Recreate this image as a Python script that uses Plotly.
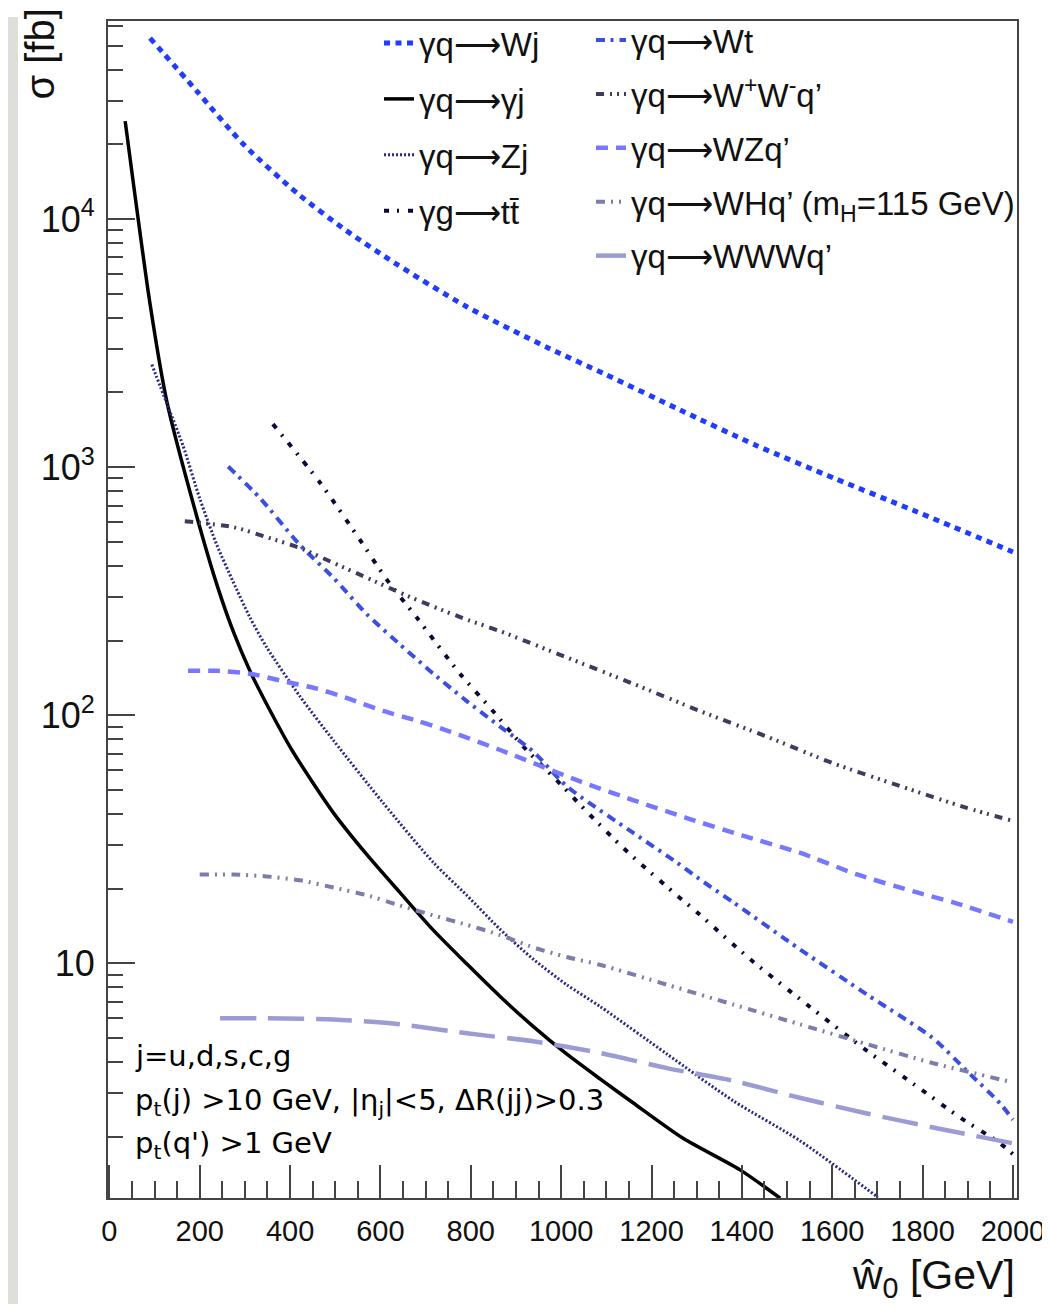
import plotly.graph_objects as go

# ---------------- data ----------------
wj_x = [90, 194, 298, 418, 524, 632, 791, 975, 1097, 1263, 1433, 1606, 1779, 2000]
wj_y = [53600, 32700, 19900, 12600, 8990, 6640, 4430, 3000, 2370, 1700, 1220, 899, 670, 455]

gj_x = [35, 90, 128, 194, 238, 274, 311, 348, 406, 496, 570, 643, 717, 791, 865, 938, 1012, 1086, 1159, 1270, 1396, 1485]
gj_y = [24800, 4550, 1810, 628, 336, 218, 151, 111, 71.4, 40.4, 27.4, 19.3, 13.6, 9.95, 7.35, 5.57, 4.31, 3.42, 2.74, 1.97, 1.47, 1.13]

zj_x = [94, 127, 163, 200, 238, 274, 311, 348, 422, 496, 606, 717, 791, 865, 938, 1012, 1086, 1234, 1381, 1528, 1701]
zj_y = [2590, 1810, 1220, 748, 485, 345, 248, 188, 119, 79.1, 44.3, 25.5, 18.8, 13.7, 10.4, 8.20, 6.70, 4.31, 2.79, 1.93, 1.14]

tt_x = [362, 466, 555, 614, 680, 776, 849, 916, 990, 1064, 1137, 1178, 1256, 1300, 1418, 1544, 1669, 1795, 1883, 1972, 2000]
tt_y = [1490, 867, 508, 352, 248, 147, 104, 74.8, 54.7, 39.6, 29.2, 25.0, 18.8, 16.1, 10.4, 6.82, 4.55, 3.12, 2.39, 1.88, 1.70]

wt_x = [263, 334, 422, 496, 570, 643, 717, 791, 865, 938, 1012, 1159, 1256, 1307, 1381, 1528, 1677, 1823, 1898, 1972, 2000]
wt_y = [1005, 748, 485, 358, 255, 193, 147, 114, 89.9, 71.4, 51.8, 33.6, 25.5, 21.8, 17.6, 11.4, 7.48, 4.99, 3.68, 2.72, 2.34]

ww_x = [167, 274, 348, 422, 496, 570, 643, 717, 791, 865, 1012, 1159, 1307, 1455, 1602, 1750, 1898, 2000]
ww_y = [605, 573, 522, 472, 411, 358, 312, 274, 243, 218, 171, 134, 104, 82.0, 64.0, 51.8, 42.3, 37.5]

wz_x = [174, 238, 311, 385, 459, 533, 606, 680, 754, 865, 1035, 1159, 1278, 1402, 1528, 1655, 1788, 1868, 2000]
wz_y = [151, 151, 147, 137, 128, 116, 104, 95.1, 85.9, 72.4, 54.7, 45.5, 38.5, 32.7, 27.9, 22.8, 19.3, 17.6, 14.7]

wh_x = [200, 274, 348, 422, 496, 570, 643, 717, 791, 865, 938, 1012, 1086, 1234, 1381, 1528, 1677, 1823, 2000]
wh_y = [22.8, 22.8, 22.4, 21.6, 20.2, 18.8, 17.1, 15.6, 14.3, 13.0, 11.6, 10.6, 9.86, 8.20, 6.82, 5.68, 4.72, 3.96, 3.31]

www_x = [245, 348, 496, 643, 791, 938, 1086, 1234, 1381, 1528, 1677, 1823, 2000]
www_y = [6.00, 6.00, 5.94, 5.68, 5.22, 4.85, 4.35, 3.78, 3.36, 2.87, 2.48, 2.18, 1.88]

y_tickvals = [10, 100, 1000, 10000]
y_ticktext = ["10", "10<sup>2</sup>", "10<sup>3</sup>", "10<sup>4</sup>"]
y_minor = [m * 10 ** e for e in range(0, 5) for m in range(2, 10)]

ARROW = "⟶"
names = {
    "wj": f"γq{ARROW}Wj", "gj": f"γq{ARROW}γj", "zj": f"γq{ARROW}Zj", "tt": f"γg{ARROW}tt\u0304",
    "wt": f"γq{ARROW}Wt", "ww": f"γq{ARROW}W<sup>+</sup>W<sup>-</sup>q’", "wz": f"γq{ARROW}WZq’",
    "wh": f"γq{ARROW}WHq’ (m<sub>H</sub>=115 GeV)", "www": f"γq{ARROW}WWWq’",
}

# ---------------- figure ----------------
fig = go.Figure()

def add(key, xs, ys, color, width, dash, legend):
    fig.add_trace(go.Scatter(
        x=xs, y=ys, mode="lines", name=names[key], legendgroup=key,
        line=dict(color=color, width=width, dash=dash, shape="spline", smoothing=0.7),
        legend=legend,
    ))

add("wj", wj_x, wj_y, "#1f3cff", 5, "6px,5.5px", "legend")
add("gj", gj_x, gj_y, "#000000", 3.5, "solid", "legend")
add("zj", zj_x, zj_y, "#2a2a85", 3, "2px,2px", "legend")
add("tt", tt_x, tt_y, "#0a0a35", 4, "5px,8px,2px,9px", "legend")
add("wt", wt_x, wt_y, "#3b4fe0", 4, "9px,5.5px,3px,6px", "legend2")
add("ww", ww_x, ww_y, "#3c3c5e", 4, "8px,6px,2px,5px,2px,5px,2px,6px", "legend2")
add("wz", wz_x, wz_y, "#7878ff", 4.5, "12px,8px", "legend2")
add("wh", wh_x, wh_y, "#7d7daa", 4, "9px,6px,2px,6px,2px,6.5px", "legend2")
add("www", www_x, www_y, "#9c9cd4", 4.5, "36px,12px", "legend2")

# page has an 8px body margin: work in screen pixels, convert to figure pixels
OFF = 8
FIG_W, FIG_H = 1050 - OFF, 1312 - 2 * OFF
L, T, R, B = 108 - OFF, 12 - OFF, 1017 - OFF, 1198 - OFF
W, H = R - L, B - T

def px(sx):
    return (sx - OFF - L) / W

def py(sy):
    return 1 - (sy - OFF - T) / H

axis_col = "#444444"
font_main = "Liberation Sans, Arial, Helvetica, sans-serif"

fig.update_layout(
    width=FIG_W, height=FIG_H,
    margin=dict(l=L, r=FIG_W - R, t=T, b=FIG_H - B),
    paper_bgcolor="white", plot_bgcolor="white",
    font=dict(family=font_main, color="#111111"),
    legend=dict(
        x=px(379), y=py(6), xanchor="left", yanchor="top",
        bgcolor="rgba(0,0,0,0)", font=dict(size=33, family=font_main),
        traceorder="grouped", tracegroupgap=10, itemwidth=30,
    ),
    legend2=dict(
        x=px(591), y=py(3), xanchor="left", yanchor="top",
        bgcolor="rgba(0,0,0,0)", font=dict(size=33, family=font_main),
        traceorder="grouped", tracegroupgap=8, itemwidth=30,
    ),
    xaxis=dict(
        range=[-3, 2009], tick0=0, dtick=200,
        ticks="inside", ticklen=33, tickwidth=1.5, tickcolor=axis_col,
        minor=dict(dtick=50, tick0=0, ticks="inside", ticklen=17, tickwidth=1.5, tickcolor=axis_col),
        showline=True, linecolor=axis_col, linewidth=2, mirror=True,
        showgrid=False, zeroline=False,
        tickfont=dict(size=29, family=font_main, color="#111111"),
        ticklabelstandoff=6,
    ),
    yaxis=dict(
        type="log", range=[0.054, 4.798],
        tickmode="array", tickvals=y_tickvals, ticktext=y_ticktext,
        ticks="inside", ticklen=27, tickwidth=1.5, tickcolor=axis_col,
        minor=dict(tickmode="array", tickvals=y_minor, ticks="inside", ticklen=15, tickwidth=1.5, tickcolor=axis_col),
        showline=True, linecolor=axis_col, linewidth=2, mirror=True,
        showgrid=False, zeroline=False,
        tickfont=dict(size=36, family=font_main, color="#111111"),
        ticklabelstandoff=4,
    ),
)

# outer gray strip at the left edge of the canvas
fig.add_shape(type="rect", xref="paper", yref="paper",
              x0=px(OFF), x1=px(18), y0=py(1312), y1=py(OFF),
              fillcolor="#dfded9", line=dict(width=0), layer="below")

# axis titles
fig.add_annotation(xref="paper", yref="paper", x=1.0, y=py(1279),
                   xanchor="right", yanchor="middle", showarrow=False,
                   text="ŵ<sub>0</sub> [GeV]", font=dict(size=41, family=font_main, color="#111111"))
fig.add_annotation(xref="paper", yref="paper", x=px(40), y=py(-2),
                   xanchor="center", yanchor="top", showarrow=False, textangle=-90,
                   text="σ [fb]", font=dict(size=40, family=font_main, color="#111111"))

# cut annotations
note_font = dict(size=29, family="DejaVu Sans, sans-serif", color="#000000")
fig.add_annotation(xref="paper", yref="paper", x=px(133), y=py(1055), xanchor="left", yanchor="middle",
                   showarrow=False, text="j=u,d,s,c,g", font=note_font)
fig.add_annotation(xref="paper", yref="paper", x=px(133), y=py(1101), xanchor="left", yanchor="middle",
                   showarrow=False, text="p<sub>t</sub>(j) >10 GeV, |η<sub>j</sub>|<5, ΔR(jj)>0.3", font=note_font)
fig.add_annotation(xref="paper", yref="paper", x=px(133), y=py(1145), xanchor="left", yanchor="middle",
                   showarrow=False, text="p<sub>t</sub>(q') >1 GeV", font=note_font)

fig.write_html("out.html")
